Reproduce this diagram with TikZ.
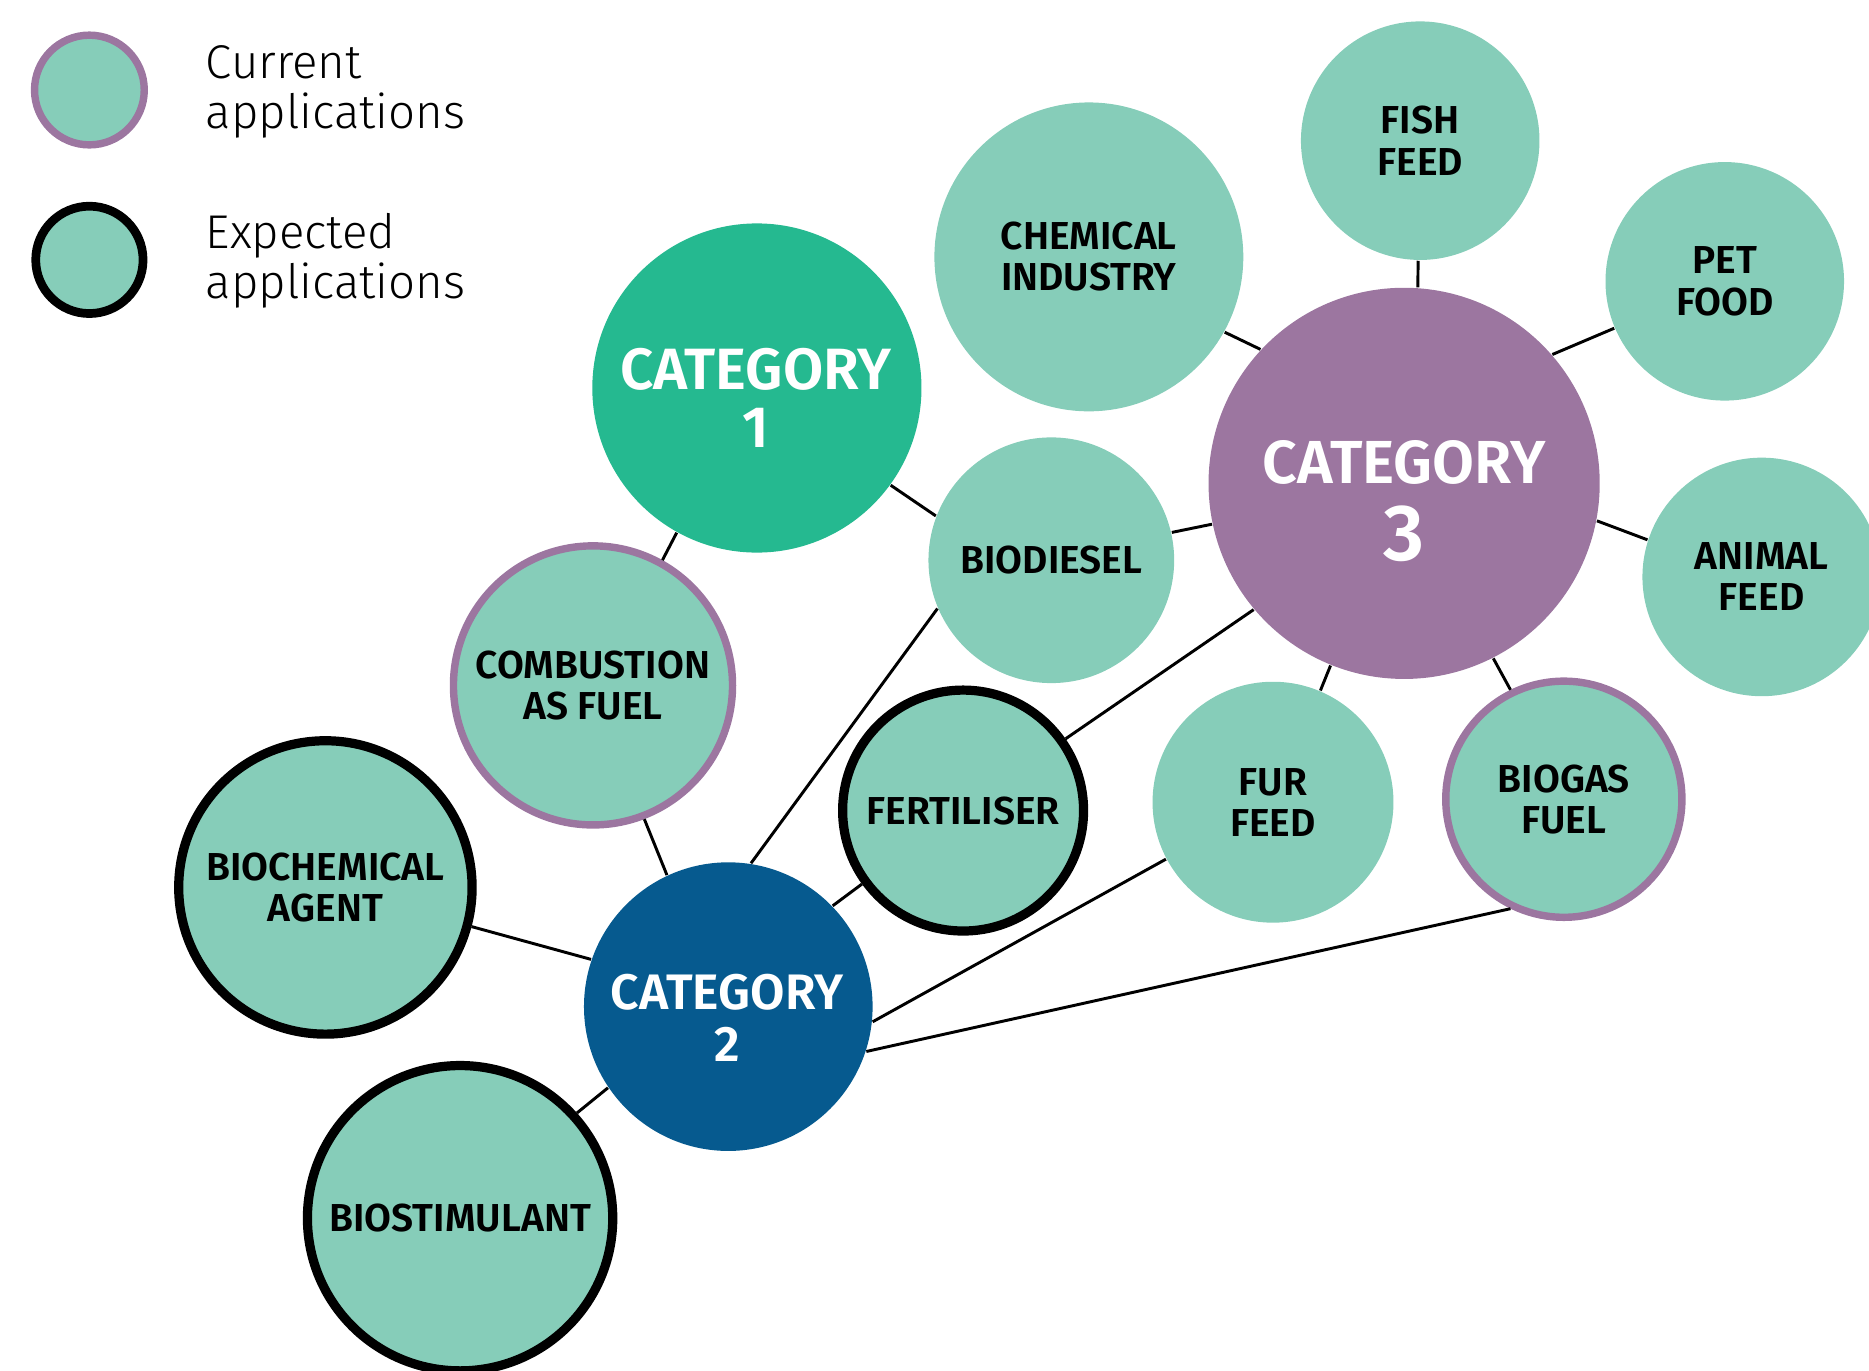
\documentclass[tikz,border=0pt]{standalone}
\usepackage{fontspec}
\setmainfont{Fira Sans}[BoldFont={Fira Sans SemiBold}]
\newfontfamily\keyfamily{Fira Sans Light}
\usepackage{tikz}
\usetikzlibrary{shapes}

\definecolor{appgreen}{HTML}{86CDB9}
\definecolor{catgreen}{HTML}{25B990}
\definecolor{catpurple}{HTML}{9C76A0}
\definecolor{catblue}{HTML}{065A8F}

\newcommand{\appfont}{\bfseries\fontsize{9.3}{9.8}\selectfont}
\newcommand{\keyfont}{\keyfamily\fontsize{11.3}{12}\selectfont}

\tikzset{
  app/.style={circle, fill=appgreen, inner sep=0pt, align=center, font=\appfont},
  current/.style={app, draw=catpurple, line width=1.77pt},
  expected/.style={app, draw=black, line width=2.2pt},
  catbubble/.style={circle, inner sep=0pt},
  catword/.style={anchor=base, inner sep=0pt, text=white},
  keytext/.style={anchor=west, align=left, inner sep=0pt, font=\keyfont},
  link/.style={draw=black, line width=0.7pt}
}

\begin{document}
\begin{tikzpicture}[x=0.01cm, y=-0.01cm]
\useasboundingbox (0,0) rectangle (1568,1150);

% legend
\node[current, minimum size=0.92cm] (curkey) at (75,75.5) {};
\node[expected, minimum size=0.9cm, line width=2.08pt] (expkey) at (75,218) {};
\node[keytext] (curtext) at (172,77) {Current\\applications};
\node[keytext] (exptext) at (172,219) {Expected\\applications};

% categories
\node[catbubble, fill=catgreen, minimum size=2.76cm] (cat1) at (635,325.5) {};
\node[catbubble, fill=catpurple, minimum size=3.28cm] (cat3) at (1178,405.5) {};
\node[catbubble, fill=catblue, minimum size=2.42cm] (cat2) at (611,844.5) {};
\node[catword, font=\bfseries\fontsize{13.9}{14}\selectfont] (cat1word) at (634,327) {CATEGORY};
\node[catword, font=\bfseries\fontsize{13.9}{14}\selectfont] (cat1num) at (634,375.3) {1};
\node[catword, font=\bfseries\fontsize{14.5}{15}\selectfont] (cat3word) at (1178,405.5) {CATEGORY};
\node[catword, font=\bfseries\fontsize{19}{19}\selectfont] (cat3num) at (1178,469.8) {3};
\node[catword, font=\bfseries\fontsize{11.9}{12}\selectfont] (cat2word) at (610,846.6) {CATEGORY};
\node[catword, font=\bfseries\fontsize{11.9}{12}\selectfont] (cat2num) at (610,890.7) {2};

% applications
\node[app, minimum size=2.59cm] (chemical) at (913.5,215.5) {CHEMICAL\\INDUSTRY};
\node[app, minimum size=2cm] (fish) at (1191.5,118) {FISH\\FEED};
\node[app, minimum size=2cm] (pet) at (1447,236) {PET\\FOOD};
\node[app, minimum size=2cm] (animal) at (1478,484) {ANIMAL\\FEED};
\node[app, minimum size=2.06cm] (biodiesel) at (882,470) {BIODIESEL};
\node[app, minimum size=2.02cm] (fur) at (1068,673) {FUR\\FEED};
\node[current, minimum size=2.34cm] (combustion) at (497.5,575) {COMBUSTION\\AS FUEL};
\node[current, minimum size=1.98cm] (biogas) at (1312,670.5) {BIOGAS\\FUEL};
\node[expected, minimum size=2.02cm] (fertiliser) at (808,680) {FERTILISER};
\node[expected, minimum size=2.46cm] (biochemical) at (273,744.5) {BIOCHEMICAL\\AGENT};
\node[expected, minimum size=2.56cm] (biostimulant) at (386,1022) {BIOSTIMULANT};

% links
\draw[link] (cat1.-36) -- (biodiesel.159);
\draw[link] (cat1.241) -- (combustion.61);
\draw[link] (cat3.137) -- (chemical.-29);
\draw[link] (cat3.86) -- (fish.-91);
\draw[link] (cat3.41) -- (pet.203);
\draw[link] (cat3.-11) -- (animal.162);
\draw[link] (cat3.192) -- (biodiesel.13);
\draw[link] (cat3.248) -- (fur.67);
\draw[link] (cat3.297) -- (biogas.116);
\draw[link] (cat3.220) -- (fertiliser.35);
\draw[link] (cat2.81) -- (biodiesel.203);
\draw[link] (cat2.115) -- (combustion.291);
\draw[link] (cat2.44) -- (fertiliser.216);
\draw[link] (cat2.-6) -- (fur.208);
\draw[link] (cat2.-18) -- (biogas.244);
\draw[link] (cat2.161) -- (biochemical.-15);
\draw[link] (cat2.214) -- (biostimulant.42);
\end{tikzpicture}
\end{document}
